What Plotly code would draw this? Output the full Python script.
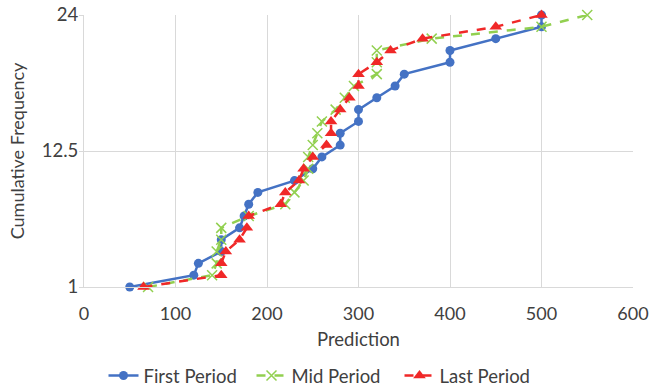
import plotly.graph_objects as go

cum_freq = list(range(1, 25))
first_period = [50, 120, 125, 150, 150, 170, 175, 180, 190, 230, 250, 260,
                280, 280, 300, 300, 320, 340, 350, 400, 400, 450, 500, 500]
mid_period = [70, 140, 145, 145, 150, 150, 180, 220, 230, 240, 245, 245,
              250, 255, 260, 275, 285, 295, 320, 320, 320, 380, 500, 550]
last_period = [65, 150, 150, 155, 170, 178, 180, 215, 220, 235, 240, 250,
               265, 270, 270, 280, 290, 300, 300, 320, 335, 370, 450, 500]
y_ticks = [1, 12.5, 24]
x_ticks = [0, 100, 200, 300, 400, 500, 600]

font_family = "Lato, 'Open Sans', sans-serif"
txt = "#404040"

fig = go.Figure()
fig.add_trace(go.Scatter(
    x=first_period, y=cum_freq, name="First Period", mode="lines+markers",
    line=dict(color="#4472C4", width=2.5),
    marker=dict(symbol="circle", size=9, color="#4472C4"),
    cliponaxis=False))
fig.add_trace(go.Scatter(
    x=mid_period, y=cum_freq, name="Mid Period", mode="lines+markers",
    line=dict(color="#92D050", width=2.5, dash="dash"),
    marker=dict(symbol="x-thin-open", size=10, color="#92D050",
                line=dict(width=1.5, color="#92D050")),
    cliponaxis=False))
fig.add_trace(go.Scatter(
    x=last_period, y=cum_freq, name="Last Period", mode="lines+markers",
    line=dict(color="#F02828", width=2.5, dash="dash"),
    marker=dict(symbol="triangle-up", size=11, color="#F02828"),
    cliponaxis=False))

fig.update_layout(
    width=651, height=390,
    margin=dict(l=84, r=18, t=15, b=103, autoexpand=False),
    paper_bgcolor="white", plot_bgcolor="white",
    font=dict(family=font_family, size=18, color=txt),
    legend=dict(orientation="h", xref="container", x=0.5, xanchor="center",
                y=-0.327, yanchor="middle",
                font=dict(size=18.5, color=txt), itemwidth=30,
                entrywidth=103, entrywidthmode="pixels",
                tracegroupgap=0),
    showlegend=True,
)
fig.update_xaxes(
    range=[0, 600], tickvals=x_ticks, showgrid=True, gridcolor="#D9D9D9",
    gridwidth=1, zeroline=False, showline=True, linecolor="#D9D9D9",
    title=dict(text="Prediction", standoff=10, font=dict(size=18.5, color=txt)),
    ticks="", ticklabelstandoff=10, tickfont=dict(size=18, color=txt),
    automargin=False)
fig.update_yaxes(
    range=[1, 24], tickvals=y_ticks, ticktext=["1", "12.5", "24"],
    showgrid=True, gridcolor="#D9D9D9", gridwidth=1, zeroline=False,
    showline=True, linecolor="#D9D9D9", ticks="outside", ticklen=4,
    tickcolor="#D9D9D9", ticklabelstandoff=-3,
    title=dict(text="Cumulative Frequency", standoff=12, font=dict(size=18, color=txt)),
    tickfont=dict(size=18.5, color=txt), automargin=False)

fig.write_html("out.html")
